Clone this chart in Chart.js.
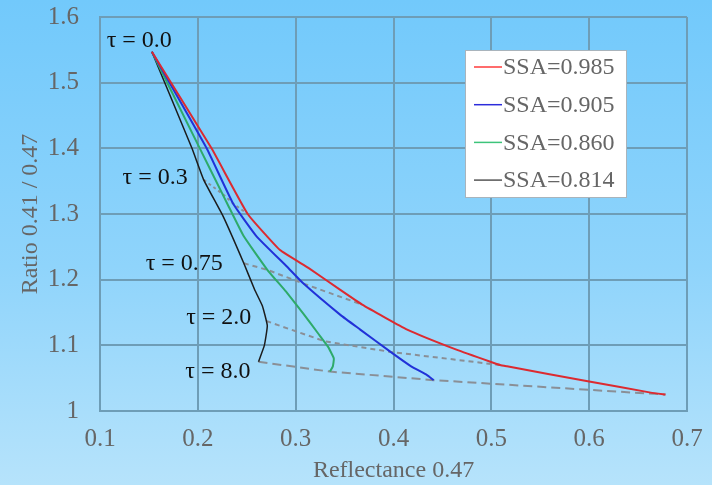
<!DOCTYPE html>
<html>
<head>
<meta charset="utf-8">
<script src="https://cdn.jsdelivr.net/npm/chart.js"></script>
<style>
  html, body { margin: 0; padding: 0; }
  body {
    width: 712px; height: 485px; overflow: hidden;
    background: linear-gradient(to bottom, #72c9fb 0%, #8fd4fb 55%, #b6e3fb 100%);
  }
  #wrap { position: relative; width: 712px; height: 485px; }
</style>
</head>
<body>
<div id="wrap"><canvas id="grafico" width="712" height="485"></canvas></div>
<script>
// ---------- data ----------
const xTickLabels = ["0.1", "0.2", "0.3", "0.4", "0.5", "0.6", "0.7"];
const yTickLabels = ["1", "1.1", "1.2", "1.3", "1.4", "1.5", "1.6"];

const ssaLabels = ["SSA=0.985", "SSA=0.905", "SSA=0.860", "SSA=0.814"];

// reflectance / ratio pairs along each curve
const ssa985X = [0.153, 0.214, 0.251, 0.284, 0.313, 0.346, 0.368, 0.414, 0.465, 0.499, 0.509, 0.516, 0.600, 0.663, 0.678];
const ssa985Y = [1.547, 1.400, 1.300, 1.245, 1.218, 1.184, 1.162, 1.124, 1.093, 1.075, 1.070, 1.068, 1.045, 1.028, 1.025];

const ssa905X = [0.153, 0.209, 0.236, 0.260, 0.291, 0.308, 0.346, 0.366, 0.397, 0.418, 0.434, 0.441];
const ssa905Y = [1.547, 1.400, 1.316, 1.266, 1.220, 1.194, 1.146, 1.124, 1.090, 1.068, 1.055, 1.047];

const ssa860X = [0.153, 0.202, 0.225, 0.230, 0.247, 0.271, 0.290, 0.308, 0.323, 0.333, 0.339, 0.338, 0.335];
const ssa860Y = [1.547, 1.400, 1.331, 1.316, 1.266, 1.215, 1.182, 1.148, 1.118, 1.098, 1.080, 1.068, 1.060];

const ssa814X = [0.153, 0.194, 0.206, 0.226, 0.247, 0.258, 0.266, 0.271, 0.268, 0.262];
const ssa814Y = [1.547, 1.400, 1.352, 1.296, 1.225, 1.185, 1.160, 1.130, 1.100, 1.075];

// iso-tau lines (black, green, blue, red)
const tauLabels = ["τ = 0.0", "τ = 0.3", "τ = 0.75", "τ = 2.0", "τ = 8.0"];
const tau03X = [0.206, 0.225, 0.236, 0.251];
const tau03Y = [1.352, 1.331, 1.316, 1.300];
const tau075X = [0.247, 0.271, 0.308, 0.368];
const tau075Y = [1.225, 1.215, 1.194, 1.162];
const tau2X = [0.270, 0.330, 0.397, 0.509];
const tau2Y = [1.137, 1.106, 1.090, 1.070];
const tau8X = [0.262, 0.335, 0.441, 0.678];
const tau8Y = [1.075, 1.060, 1.047, 1.025];

// ---------- helpers ----------
function pares(xs, ys){
    return xs.map((x, i) => ({ x: x, y: ys[i] }));
}

const corSerie = ["#dc2a30", "#2131d8", "#2eaa6a", "#1c1c1c"];
const corLegenda = ["#ff3b3b", "#2c2cdb", "#3cc47a", "#555555"];
const corTexto = "#666666";
const corGrade = "#6e9db6";
const fonte = "'Liberation Serif', 'DejaVu Serif', serif";

function serie(i, xs, ys){
    return {
        label: ssaLabels[i],
        data: pares(xs, ys),
        borderColor: corSerie[i],
        borderWidth: i === 3 ? 1.5 : 2,
        pointRadius: 0,
        tension: 0.12,
        order: 1
    };
}

function isoTau(xs, ys, dash){
    return {
        label: "",
        data: pares(xs, ys),
        borderColor: "#8a8f96",
        borderWidth: 2,
        borderDash: dash,
        pointRadius: 0,
        tension: 0,
        order: 2
    };
}

// ---------- custom legend + tau labels ----------
const extras = {
    id: "extras",
    afterDatasetsDraw(chart){
        const ctx = chart.ctx;
        const sx = chart.scales.x;
        const sy = chart.scales.y;

        // tau labels, anchored to the black curve's tau points
        ctx.save();
        ctx.fillStyle = "#111";
        ctx.font = "24px " + fonte;
        ctx.textBaseline = "middle";
        ctx.textAlign = "right";
        const anc = [
            [ssa814X[0], ssa814Y[0], 20, -11],
            [tau03X[0], tau03Y[0], -16, -2],
            [tau075X[0], tau075Y[0], -21, 0],
            [tau2X[0], tau2Y[0], -15, -3],
            [tau8X[0], tau8Y[0], -8, 10]
        ];
        anc.forEach((a, i) => {
            ctx.fillText(tauLabels[i], sx.getPixelForValue(a[0]) + a[2], sy.getPixelForValue(a[1]) + a[3]);
        });
        ctx.restore();

        // legend box
        const bx = 465, by = 50, bw = 161, bh = 147;
        ctx.save();
        ctx.fillStyle = "#ffffff";
        ctx.fillRect(bx, by, bw, bh);
        ctx.strokeStyle = "#a9b4bc";
        ctx.lineWidth = 1;
        ctx.strokeRect(bx + 0.5, by + 0.5, bw, bh);
        ctx.font = "24px " + fonte;
        ctx.textBaseline = "middle";
        ctx.textAlign = "left";
        ssaLabels.forEach((t, i) => {
            const yy = by + 17 + i * 37.7;
            ctx.strokeStyle = corLegenda[i];
            ctx.lineWidth = 1.5;
            ctx.beginPath();
            ctx.moveTo(bx + 9, yy);
            ctx.lineTo(bx + 37, yy);
            ctx.stroke();
            ctx.fillStyle = corTexto;
            ctx.fillText(t, bx + 38, yy + 1);
        });
        ctx.restore();
    }
};

// ---------- chart ----------
const grafico = new Chart(document.getElementById("grafico"), {
    type: "line",
    data: {
        datasets: [
            serie(0, ssa985X, ssa985Y),
            serie(1, ssa905X, ssa905Y),
            serie(2, ssa860X, ssa860Y),
            serie(3, ssa814X, ssa814Y),
            isoTau(tau03X, tau03Y, [3, 3]),
            isoTau(tau075X, tau075Y, [5, 4]),
            isoTau(tau2X, tau2Y, [5, 4]),
            isoTau(tau8X, tau8Y, [9, 5])
        ]
    },
    options: {
        responsive: false,
        animation: false,
        layout: { padding: { left: 0, top: 17, right: 25, bottom: 0 } },
        plugins: {
            legend: { display: false },
            tooltip: { enabled: false }
        },
        scales: {
            x: {
                type: "linear",
                min: 0.1,
                max: 0.7,
                afterFit: s => { s.height = 74; s.paddingLeft = 0; s.paddingRight = 0; },
                afterBuildTicks: s => { s.ticks = xTickLabels.map(v => ({ value: parseFloat(v) })); },
                grid: { color: corGrade, lineWidth: 2, drawTicks: false },
                border: { color: corGrade, width: 2 },
                ticks: {
                    padding: 13,
                    color: corTexto,
                    font: { family: fonte, size: 25 },
                    callback: (v, i) => xTickLabels[i]
                },
                title: {
                    display: true,
                    text: "Reflectance 0.47",
                    color: corTexto,
                    font: { family: fonte, size: 24 },
                    padding: { top: 0, bottom: 0 }
                }
            },
            y: {
                type: "linear",
                min: 1,
                max: 1.6,
                afterFit: s => { s.width = 100; s.paddingTop = 0; s.paddingBottom = 0; },
                afterBuildTicks: s => { s.ticks = yTickLabels.map(v => ({ value: parseFloat(v) })); },
                grid: { color: corGrade, lineWidth: 2, drawTicks: false },
                border: { color: corGrade, width: 2 },
                ticks: {
                    padding: 21,
                    color: corTexto,
                    font: { family: fonte, size: 25 },
                    callback: (v, i) => yTickLabels[i]
                },
                title: {
                    display: true,
                    text: "Ratio 0.41 / 0.47",
                    color: corTexto,
                    font: { family: fonte, size: 24 },
                    padding: { top: 16, bottom: 0 }
                }
            }
        }
    },
    plugins: [extras]
});
</script>
</body>
</html>
